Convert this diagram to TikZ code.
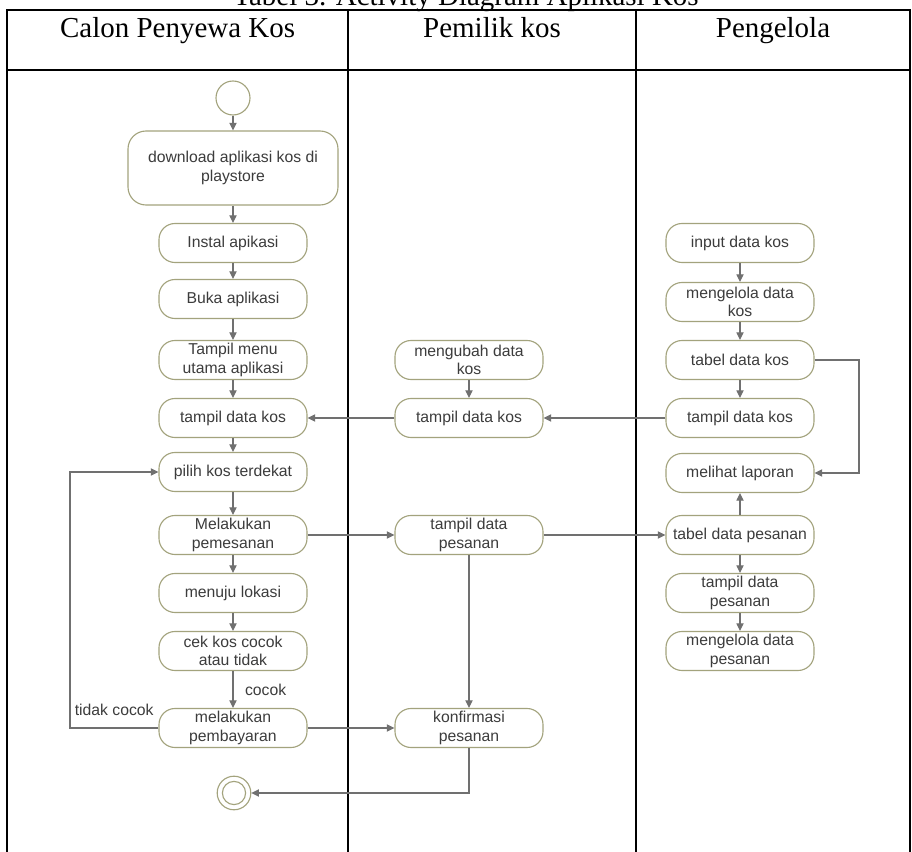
\documentclass[tikz,border=0pt]{standalone}
\usepackage{fontspec}
\setmainfont{Liberation Serif}
\newfontfamily\actfont{Liberation Sans}
\usetikzlibrary{arrows.meta,positioning}
\definecolor{actline}{HTML}{A3A37D}
\definecolor{acttext}{HTML}{3C3C3C}
\definecolor{flow}{HTML}{707070}
\definecolor{ink}{HTML}{000000}

\begin{document}
\begin{tikzpicture}[
  >={Triangle[length=1.9mm,width=1.8mm]},
  act/.style={draw=actline,fill=white,rounded corners=0.4cm,line width=0.8pt,
    minimum width=3.7cm,minimum height=0.975cm,align=center,inner sep=1pt,
    font=\actfont\fontsize{11.2}{13}\selectfont,text=acttext},
  dot/.style={circle,draw=actline,fill=white,line width=0.8pt,inner sep=0pt},
  flowarrow/.style={->,line width=0.8pt,draw=flow},
  lane/.style={draw=ink,line width=1.2pt},
  lanetitle/.style={font=\fontsize{20.6}{24}\selectfont,text=ink,anchor=base},
  guard/.style={font=\actfont\fontsize{11.2}{13}\selectfont,text=acttext},
]
\useasboundingbox (0,0) rectangle (22.8,21.3);

% ===================== CAPTION + SWIMLANES =====================
\node[lanetitle] (caption) at (11.65,21.15) {Tabel 3. Activity Diagram Aplikasi Kos};
\draw[lane] (0.175,0) -- (0.175,21.05) -- (22.75,21.05) -- (22.75,0);
\draw[lane] (0.175,19.55) -- (22.75,19.55);
\draw[lane] (8.7,0) -- (8.7,21.05);
\draw[lane] (15.9,0) -- (15.9,21.05);
\node[lanetitle] (laneA) at (4.44,20.35) {Calon Penyewa Kos};
\node[lanetitle] (laneB) at (12.3,20.35) {Pemilik kos};
\node[lanetitle] (laneC) at (19.325,20.35) {Pengelola};

% ===================== CALON PENYEWA KOS =====================
\node[dot,minimum size=0.85cm] (start) at (5.825,18.85) {};
\node[act,minimum width=5.25cm,minimum height=1.85cm,rounded corners=0.45cm] (download) at (5.825,17.1) {download aplikasi kos di\\playstore};
\node[act] (instal) at (5.825,15.225) {Instal apikasi};
\node[act] (buka) at (5.825,13.825) {Buka aplikasi};
\node[act] (menu) at (5.825,12.3) {Tampil menu\\utama aplikasi};
\node[act] (tampilA) at (5.825,10.85) {tampil data kos};
\node[act] (pilih) at (5.825,9.5) {pilih kos terdekat};
\node[act] (pesan) at (5.825,7.925) {Melakukan\\pemesanan};
\node[act] (menuju) at (5.825,6.475) {menuju lokasi};
\node[act] (cek) at (5.825,5.025) {cek kos cocok\\atau tidak};
\node[act] (bayar) at (5.825,3.1) {melakukan\\pembayaran};
\node[dot,minimum size=0.84cm] (end) at (5.85,1.475) {};
\node[dot,minimum size=0.58cm] (endin) at (end) {};

% ===================== PEMILIK KOS =====================
\node[act] (ubah) at (11.725,12.3) {mengubah data\\kos};
\node[act] (tampilB) at (11.725,10.85) {tampil data kos};
\node[act] (pesananB) at (11.725,7.925) {tampil data\\pesanan};
\node[act] (konfirmasi) at (11.725,3.1) {konfirmasi\\pesanan};

% ===================== PENGELOLA =====================
\node[act] (input) at (18.5,15.225) {input data kos};
\node[act] (kelolaKos) at (18.5,13.75) {mengelola data\\kos};
\node[act] (tabelKos) at (18.5,12.3) {tabel data kos};
\node[act] (tampilC) at (18.5,10.85) {tampil data kos};
\node[act] (laporan) at (18.5,9.475) {melihat laporan};
\node[act] (tabelPesanan) at (18.5,7.925) {tabel data pesanan};
\node[act] (pesananC) at (18.5,6.475) {tampil data\\pesanan};
\node[act] (kelolaPesanan) at (18.5,5.025) {mengelola data\\pesanan};

% flow of the tenant
\draw[flowarrow] (start) -- (download);
\draw[flowarrow] (download) -- (instal);
\draw[flowarrow] (instal) -- (buka);
\draw[flowarrow] (buka) -- (menu);
\draw[flowarrow] (menu) -- (tampilA);
\draw[flowarrow] (tampilA) -- (pilih);
\draw[flowarrow] (pilih) -- (pesan);
\draw[flowarrow] (pesan) -- (menuju);
\draw[flowarrow] (menuju) -- (cek);
\draw[flowarrow] (cek) -- node[guard,right=0.17cm] {cocok} (bayar);
\coordinate (back) at (1.75,3.1);
\draw[flowarrow] (bayar.west) -- node[guard,above=0.18cm] {tidak cocok} (back) |- (pilih.west);
\draw[flowarrow] (bayar) -- (konfirmasi);
\draw[flowarrow] (konfirmasi.south) |- (end.east);

% flow between lanes
\draw[flowarrow] (pesan) -- (pesananB);
\draw[flowarrow] (pesananB) -- (tabelPesanan);
\draw[flowarrow] (pesananB) -- (konfirmasi);
\draw[flowarrow] (ubah) -- (tampilB);
\draw[flowarrow] (tampilB) -- (tampilA);
\draw[flowarrow] (tampilC) -- (tampilB);

% flow of the manager
\draw[flowarrow] (input) -- (kelolaKos);
\draw[flowarrow] (kelolaKos) -- (tabelKos);
\draw[flowarrow] (tabelKos) -- (tampilC);
\coordinate (side) at (21.475,12.3);
\draw[flowarrow] (tabelKos.east) -- (side) |- (laporan.east);
\draw[flowarrow] (tabelPesanan) -- (laporan);
\draw[flowarrow] (tabelPesanan) -- (pesananC);
\draw[flowarrow] (pesananC) -- (kelolaPesanan);

\end{tikzpicture}
\end{document}
